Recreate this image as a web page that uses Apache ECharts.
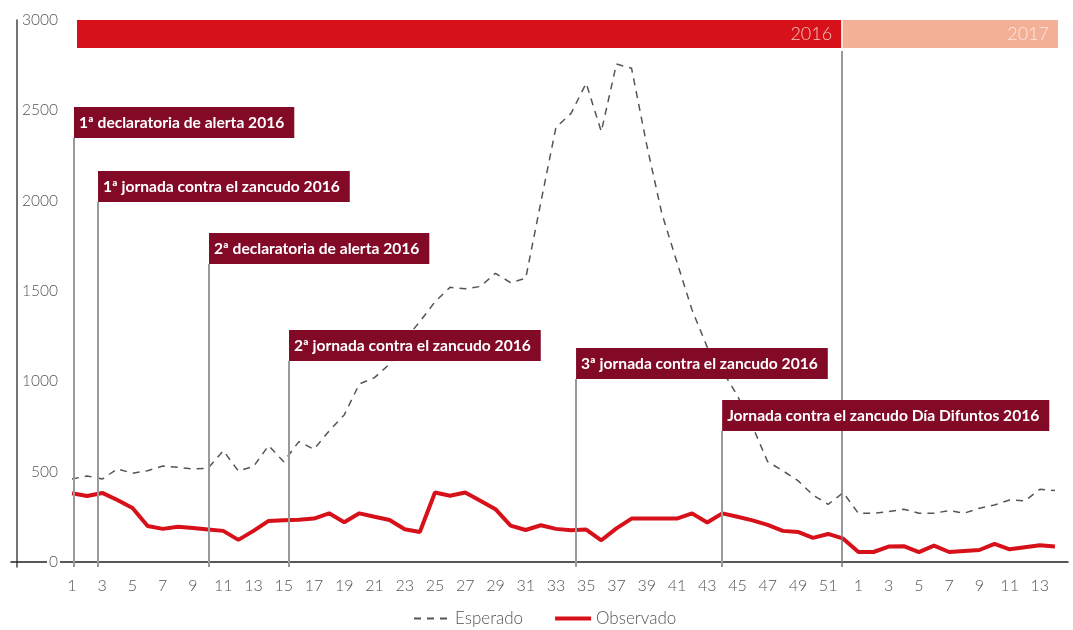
<!DOCTYPE html>
<html>
<head>
<meta charset="utf-8">
<script src="https://cdn.jsdelivr.net/npm/echarts@6/dist/echarts.min.js"></script>
<style>
  html, body { margin: 0; padding: 0; background: #fff; }
  #chart { width: 1073px; height: 630px; }
</style>
</head>
<body>
<div id="chart"></div>
<script>
// semanas epidemiológicas: 2016 (1-52) y 2017 (1-14)
const weeks = [
  1, 2, 3, 4, 5, 6, 7, 8, 9, 10, 11, 12, 13, 14, 15, 16, 17, 18, 19, 20, 21, 22, 23, 24, 25, 26,
  27, 28, 29, 30, 31, 32, 33, 34, 35, 36, 37, 38, 39, 40, 41, 42, 43, 44, 45, 46, 47, 48, 49, 50, 51, 52,
  1, 2, 3, 4, 5, 6, 7, 8, 9, 10, 11, 12, 13, 14
];
const esperado = [
  459, 476, 459, 515, 491, 505, 531, 524, 515, 519, 616, 504, 528, 644, 555, 666, 624, 725, 814, 985, 1020, 1095, 1230, 1330, 1440, 1520,
  1512, 1525, 1598, 1546, 1570, 1990, 2406, 2483, 2650, 2382, 2756, 2733, 2310, 1930, 1660, 1395, 1190, 1060, 920, 750, 555, 505, 450, 370, 319, 384,
  269, 270, 279, 292, 270, 270, 284, 270, 297, 315, 343, 338, 402, 395
];
const observado = [
  380, 365, 382, 343, 299, 199, 183, 195, 188, 179, 172, 122, 172, 227, 231, 234, 240, 269, 220, 269, 250, 232, 181, 166, 384, 366,
  384, 339, 292, 201, 177, 203, 183, 175, 179, 120, 186, 240, 240, 240, 240, 269, 218, 269, 250, 230, 205, 172, 166, 133, 155, 129,
  55, 55, 85, 87, 54, 90, 55, 61, 66, 100, 70, 81, 92, 85
];
const yTicks = [0, 500, 1000, 1500, 2000, 2500, 3000];
const xTicks = [1, 3, 5, 7, 9, 11, 13, 15, 17, 19, 21, 23, 25, 27, 29, 31, 33, 35, 37, 39, 41, 43, 45, 47, 49, 51,
  53, 55, 57, 59, 61, 63, 65];

// eventos (posición en el eje de semanas)
const events = [
  '1ª declaratoria de alerta 2016',
  '1ª jornada contra el zancudo 2016',
  '2ª declaratoria de alerta 2016',
  '2ª jornada contra el zancudo 2016',
  '3ª jornada contra el zancudo 2016',
  'Jornada contra el zancudo Día Difuntos 2016'
];
const eventWeeks = [1.13, 2.72, 10.06, 15.35, 34.33, 43.99];
const eventLabelLevels = [2347, 1993, 1649, 1113, 1013, 725];

const years = ['2016', '2017'];
const yearSpans = [[1.33, 51.86], [51.96, 66.2]];
const yearColors = ['#d7111a', '#f4b096'];
const yearTextColors = ['#f6c4bd', '#fde6df'];
const yearBreak = 51.93;

const font = 'Lato, "Open Sans", sans-serif';

const chart = echarts.init(document.getElementById('chart'), null, { renderer: 'canvas' });

const eventLines = events.map((name, i) => [
  {
    coord: [eventWeeks[i], -28],
    lineStyle: { color: '#9a9a9a', width: 2, type: 'solid' },
    label: {
      show: true,
      position: 'end',
      formatter: name,
      align: 'left',
      verticalAlign: 'bottom',
      distance: 0,
      color: '#fff',
      fontFamily: font,
      fontWeight: 'bold',
      fontSize: 15.6,
      backgroundColor: '#830a27',
      padding: [8, 10, 7, 5]
    }
  },
  { coord: [eventWeeks[i], eventLabelLevels[i]] }
]);

eventLines.push([
  { coord: [yearBreak, -28], lineStyle: { color: '#777', width: 1.5, type: 'solid' }, label: { show: false } },
  { coord: [yearBreak, 2828] }
]);

const yearAreas = years.map((y, i) => [
  {
    coord: [yearSpans[i][0], 2845],
    itemStyle: { color: yearColors[i] },
    label: {
      show: true,
      position: 'insideRight',
      formatter: y,
      color: yearTextColors[i],
      fontFamily: font,
      fontWeight: 300,
      fontSize: 18,
      distance: 9
    }
  },
  { coord: [yearSpans[i][1], 3000] }
]);

chart.setOption({
  animation: false,
  textStyle: { fontFamily: font },
  grid: { left: 11, right: 5, top: 20, bottom: 63, containLabel: false },
  legend: {
    data: [
      { name: 'Esperado' },
      { name: 'Observado', lineStyle: { width: 4 } }
    ],
    left: 408,
    top: 605,
    itemWidth: 36,
    itemHeight: 14,
    itemGap: 30,
    itemStyle: { opacity: 0 },
    textStyle: { fontSize: 17, color: '#555', fontWeight: 300 }
  },
  xAxis: {
    type: 'value',
    min: -3.034,
    max: 66.86,
    splitLine: { show: false },
    axisTick: { show: false },
    axisLine: { show: true, onZero: true, lineStyle: { color: '#222', width: 1.5 } },
    axisLabel: {
      customValues: xTicks,
      formatter: v => String(weeks[v - 1]),
      color: '#555',
      fontSize: 16,
      fontWeight: 300,
      margin: 11
    }
  },
  yAxis: {
    type: 'value',
    min: -28,
    max: 3000,
    offset: -6,
    splitLine: { show: false },
    axisTick: { show: false },
    axisLine: { show: true, onZero: false, lineStyle: { color: '#444', width: 1.5 } },
    axisLabel: {
      customValues: yTicks,
      formatter: v => String(v),
      color: '#555',
      fontSize: 15.5,
      fontWeight: 300,
      margin: -43,
      backgroundColor: '#fff',
      padding: [0, 2]
    }
  },
  series: [
    {
      name: 'Esperado',
      type: 'line',
      z: 2,
      symbol: 'none',
      data: esperado.map((v, i) => [i + 1, v]),
      itemStyle: { color: '#555' },
      lineStyle: { color: '#555', width: 1.5, type: [7, 6] }
    },
    {
      name: 'anotaciones',
      type: 'line',
      z: 3,
      data: [],
      markLine: {
        silent: true,
        symbol: 'none',
        animation: false,
        data: eventLines
      },
      markArea: {
        silent: true,
        animation: false,
        data: yearAreas
      }
    },
    {
      name: 'Observado',
      type: 'line',
      z: 4,
      symbol: 'none',
      data: observado.map((v, i) => [i + 1, v]),
      itemStyle: { color: '#d7111a' },
      lineStyle: { color: '#d7111a', width: 4 }
    }
  ]
});

window.addEventListener('resize', () => chart.resize());
</script>
</body>
</html>
